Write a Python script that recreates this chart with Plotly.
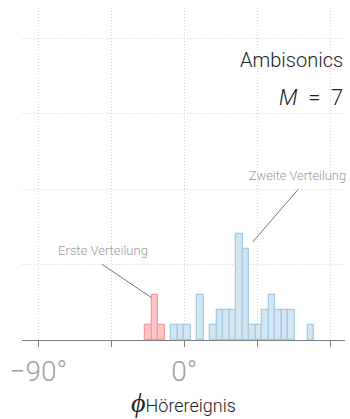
import plotly.graph_objects as go

# Data: histogram counts (4° bins), bin centres in degrees
red_centers = [-22, -18, -14]
red_counts = [1, 3, 1]
blue_centers = [-6, -2, 2, 10, 18, 22, 26, 30, 34, 38, 42, 46, 50, 54, 58, 62, 66, 78]
blue_counts = [1, 1, 1, 3, 1, 2, 2, 2, 7, 6, 1, 1, 2, 3, 2, 2, 2, 1]
bin_width = 4

tick_vals = [-90, -45, 0, 45, 90]
tick_text = ["−90°", "", "0°", "", "90°"]

fig = go.Figure()
fig.add_trace(go.Bar(x=red_centers, y=red_counts, width=bin_width,
                     marker=dict(color="#fcc6c9", line=dict(color="#f59ca2", width=1.3)),
                     showlegend=False, hoverinfo="skip"))
fig.add_trace(go.Bar(x=blue_centers, y=blue_counts, width=bin_width,
                     marker=dict(color="#d2e5f1", line=dict(color="#a5cde4", width=1.3)),
                     showlegend=False, hoverinfo="skip"))

# annotation pointers (data coords)
lines = [((-50.5, 5.0), (-20.1, 2.8)), ((70.3, 10.0), (42.2, 6.5))]
for (x0, y0), (x1, y1) in lines:
    fig.add_shape(type="line", x0=x0, y0=y0, x1=x1, y1=y1, xref="x", yref="y",
                  line=dict(color="#777777", width=1))

fig.add_annotation(x=-50, y=5.9, text="Erste Verteilung", showarrow=False,
                   font=dict(family="Roboto", size=13, color="#999999", weight=300))
fig.add_annotation(x=69.5, y=10.9, text="Zweite Verteilung", showarrow=False,
                   font=dict(family="Roboto", size=12.8, color="#999999", weight=300))
fig.add_annotation(x=1, xref="paper", xanchor="right", y=60, yref="paper", yanchor="middle",
                   text="Ambisonics", showarrow=False,
                   font=dict(family="Roboto", size=20, color="#222222", weight=300))
fig.add_annotation(x=1, xref="paper", xanchor="right", y=97, yref="paper", yanchor="middle",
                   text="<i>M</i>&nbsp;&nbsp;=&nbsp;&nbsp;7", showarrow=False,
                   font=dict(family="Roboto", size=22, color="#222222", weight=300))

fig.update_layout(
    width=350, height=419,
    margin=dict(l=22, r=5, t=8, b=79),
    plot_bgcolor="white", paper_bgcolor="white",
    bargap=0, barmode="overlay",
    font=dict(family="Roboto"),
    xaxis=dict(range=[-100, 99], tickvals=tick_vals, ticktext=tick_text,
               showgrid=True, gridcolor="#d4d4d4", griddash="1px,2px", gridwidth=1,
               zeroline=False, showline=True, linecolor="#808080", linewidth=1.2,
               ticks="outside", ticklen=6, tickcolor="#808080",
               tickfont=dict(family="Roboto", size=28, color="#a0a0a0", weight=300),
               title=dict(text="<i><span style='font-size:28px'>ϕ</span></i><span style='font-size:18px'>Hörereignis</span>",
                          font=dict(family="Roboto", size=18, color="#222222", weight=300),
                          standoff=8),
               fixedrange=True),
    yaxis=dict(range=[0, 22], tickvals=[5, 10, 15, 20], showticklabels=False,
               showgrid=True, gridcolor="#d4d4d4", griddash="1px,2px", gridwidth=1,
               zeroline=False, showline=False, ticks="", fixedrange=True),
)

# convert pixel y of paper-positioned annotations to paper fraction
plot_top = 8
plot_h = 419 - 8 - 79
for ann in fig.layout.annotations:
    if ann.yref == "paper":
        ann.y = 1 - (ann.y - plot_top) / plot_h

fig.write_html("out.html")
